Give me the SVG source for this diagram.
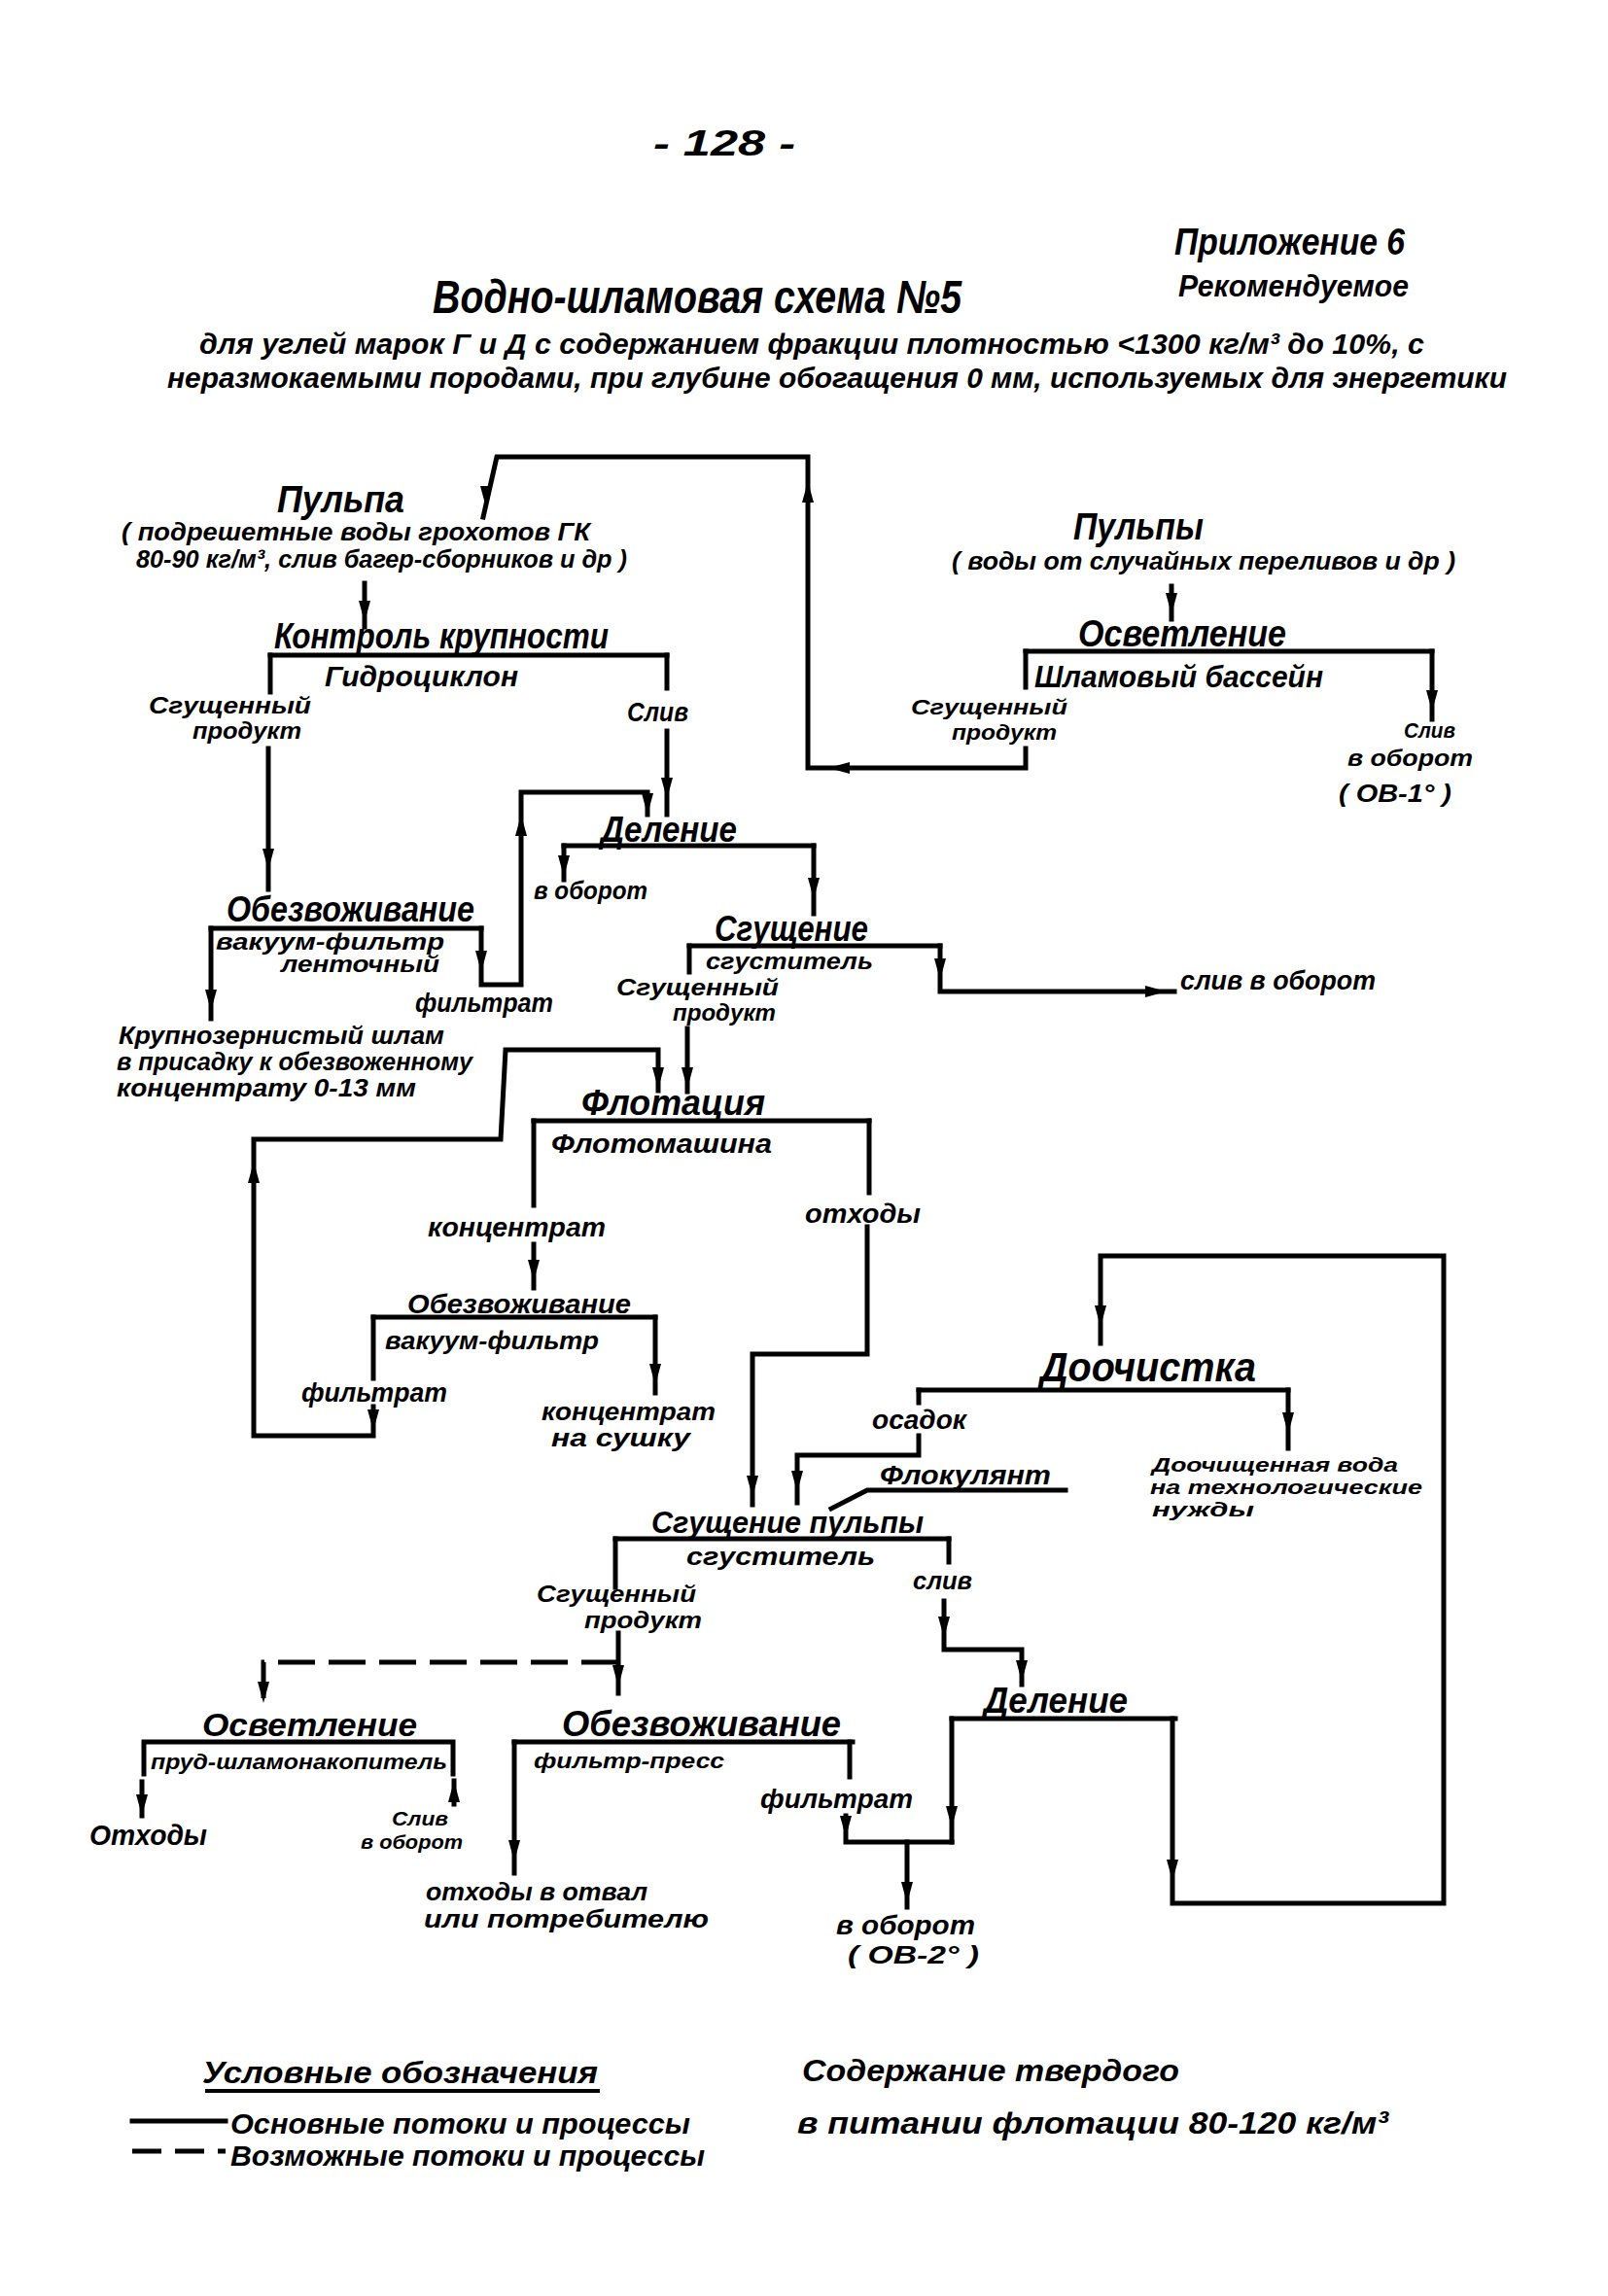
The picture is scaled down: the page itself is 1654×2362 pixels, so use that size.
<svg xmlns="http://www.w3.org/2000/svg" width="1654" height="2362" viewBox="0 0 1654 2362">
<style>
.t{font-family:"Liberation Sans","DejaVu Sans",sans-serif;font-style:italic;font-weight:bold;fill:#000}
.l{fill:none;stroke:#000;stroke-width:5;stroke-linejoin:miter;stroke-linecap:square}
.d{fill:none;stroke:#000;stroke-width:5;stroke-dasharray:38 14}
</style>
<defs>
<path id="ad" d="M0,0 L-6,-22 L6,-22 Z"/>
<path id="au" d="M0,0 L-6,22 L6,22 Z"/>
<path id="al" d="M0,0 L22,-6 L22,6 Z"/>
<path id="ar" d="M0,0 L-22,-6 L-22,6 Z"/>
</defs>
<rect width="1654" height="2362" fill="#fff"/>

<g id="header">
<text class="t" x="672" y="160" font-size="36" textLength="146" lengthAdjust="spacingAndGlyphs">- 128 -</text>
<text class="t" x="1208" y="262" font-size="38" textLength="237" lengthAdjust="spacingAndGlyphs">Приложение 6</text>
<text class="t" x="1212" y="305" font-size="32" textLength="237" lengthAdjust="spacingAndGlyphs">Рекомендуемое</text>
<text class="t" x="445" y="322" font-size="48" textLength="544" lengthAdjust="spacingAndGlyphs">Водно-шламовая схема №5</text>
<text class="t" x="205" y="364" font-size="30" textLength="1260" lengthAdjust="spacingAndGlyphs">для углей марок Г и Д с содержанием фракции плотностью &lt;1300 кг/м³  до 10%, с</text>
<text class="t" x="172" y="399" font-size="30" textLength="1378" lengthAdjust="spacingAndGlyphs">неразмокаемыми породами, при глубине обогащения 0 мм, используемых для энергетики</text>
</g>

<g id="n_pulpa1">
<text class="t" x="285" y="527" font-size="38" textLength="131" lengthAdjust="spacingAndGlyphs">Пульпа</text>
<text class="t" x="125" y="556" font-size="26" textLength="482" lengthAdjust="spacingAndGlyphs">( подрешетные воды грохотов ГК</text>
<text class="t" x="140" y="584" font-size="26" textLength="505" lengthAdjust="spacingAndGlyphs">80-90 кг/м³, слив багер-сборников и др )</text>
</g>

<g id="n_kontrol">
<text class="t" x="282" y="667" font-size="36" textLength="344" lengthAdjust="spacingAndGlyphs">Контроль крупности</text>
<path class="l" d="M278,674 H686"/>
<text class="t" x="334" y="706" font-size="30" textLength="199" lengthAdjust="spacingAndGlyphs">Гидроциклон</text>
<text class="t" x="153" y="734" font-size="24" textLength="167" lengthAdjust="spacingAndGlyphs">Сгущенный</text>
<text class="t" x="198" y="760" font-size="24" textLength="112" lengthAdjust="spacingAndGlyphs">продукт</text>
<text class="t" x="645" y="742" font-size="28" textLength="63" lengthAdjust="spacingAndGlyphs">Слив</text>
</g>

<g id="n_pulpy2">
<text class="t" x="1104" y="555" font-size="38" textLength="134" lengthAdjust="spacingAndGlyphs">Пульпы</text>
<text class="t" x="979" y="586" font-size="26" textLength="518" lengthAdjust="spacingAndGlyphs">( воды от случайных переливов и др )</text>
</g>

<g id="n_osvet1">
<text class="t" x="1109" y="665" font-size="38" textLength="214" lengthAdjust="spacingAndGlyphs">Осветление</text>
<path class="l" d="M1055,670 H1473"/>
<text class="t" x="1064" y="707" font-size="32" textLength="297" lengthAdjust="spacingAndGlyphs">Шламовый бассейн</text>
<text class="t" x="937" y="735" font-size="22" textLength="161" lengthAdjust="spacingAndGlyphs">Сгущенный</text>
<text class="t" x="979" y="761" font-size="22" textLength="108" lengthAdjust="spacingAndGlyphs">продукт</text>
<text class="t" x="1444" y="759" font-size="22" textLength="53" lengthAdjust="spacingAndGlyphs">Слив</text>
<text class="t" x="1386" y="788" font-size="24" textLength="129" lengthAdjust="spacingAndGlyphs">в оборот</text>
<text class="t" x="1377" y="825" font-size="26" textLength="116" lengthAdjust="spacingAndGlyphs">( ОВ-1° )</text>
</g>

<g id="n_delen1">
<text class="t" x="618" y="866" font-size="36" textLength="140" lengthAdjust="spacingAndGlyphs">Деление</text>
<path class="l" d="M580,870 H837"/>
<text class="t" x="549" y="925" font-size="26" textLength="117" lengthAdjust="spacingAndGlyphs">в оборот</text>
</g>

<g id="n_obezv1">
<text class="t" x="233" y="948" font-size="36" textLength="255" lengthAdjust="spacingAndGlyphs">Обезвоживание</text>
<path class="l" d="M217,955 H495"/>
<text class="t" x="222" y="977" font-size="23" textLength="235" lengthAdjust="spacingAndGlyphs">вакуум-фильтр</text>
<text class="t" x="289" y="1000" font-size="23" textLength="163" lengthAdjust="spacingAndGlyphs">ленточный</text>
<text class="t" x="427" y="1041" font-size="28" textLength="142" lengthAdjust="spacingAndGlyphs">фильтрат</text>
<text class="t" x="122" y="1074" font-size="26" textLength="335" lengthAdjust="spacingAndGlyphs">Крупнозернистый шлам</text>
<text class="t" x="120" y="1101" font-size="26" textLength="366" lengthAdjust="spacingAndGlyphs">в присадку к обезвоженному</text>
<text class="t" x="120" y="1128" font-size="26" textLength="308" lengthAdjust="spacingAndGlyphs">концентрату 0-13 мм</text>
</g>

<g id="n_sgush1">
<text class="t" x="735" y="968" font-size="36" textLength="158" lengthAdjust="spacingAndGlyphs">Сгущение</text>
<path class="l" d="M709,973 H967"/>
<text class="t" x="726" y="997" font-size="24" textLength="172" lengthAdjust="spacingAndGlyphs">сгуститель</text>
<text class="t" x="634" y="1024" font-size="23" textLength="167" lengthAdjust="spacingAndGlyphs">Сгущенный</text>
<text class="t" x="692" y="1050" font-size="23" textLength="106" lengthAdjust="spacingAndGlyphs">продукт</text>
<text class="t" x="1214" y="1018" font-size="28" textLength="201" lengthAdjust="spacingAndGlyphs">слив в оборот</text>
</g>

<g id="n_flot">
<text class="t" x="598" y="1147" font-size="36" textLength="189" lengthAdjust="spacingAndGlyphs">Флотация</text>
<path class="l" d="M549,1153 H894"/>
<text class="t" x="567" y="1186" font-size="28" textLength="227" lengthAdjust="spacingAndGlyphs">Флотомашина</text>
<text class="t" x="440" y="1272" font-size="28" textLength="183" lengthAdjust="spacingAndGlyphs">концентрат</text>
<text class="t" x="828" y="1258" font-size="28" textLength="119" lengthAdjust="spacingAndGlyphs">отходы</text>
</g>

<g id="n_obezv2">
<text class="t" x="419" y="1351" font-size="28" textLength="230" lengthAdjust="spacingAndGlyphs">Обезвоживание</text>
<path class="l" d="M384,1355 H674"/>
<text class="t" x="396" y="1388" font-size="26" textLength="220" lengthAdjust="spacingAndGlyphs">вакуум-фильтр</text>
<text class="t" x="310" y="1442" font-size="28" textLength="150" lengthAdjust="spacingAndGlyphs">фильтрат</text>
<text class="t" x="557" y="1461" font-size="26" textLength="179" lengthAdjust="spacingAndGlyphs">концентрат</text>
<text class="t" x="567" y="1488" font-size="26" textLength="143" lengthAdjust="spacingAndGlyphs">на сушку</text>
</g>

<g id="n_doochist">
<text class="t" x="1070" y="1421" font-size="42" textLength="222" lengthAdjust="spacingAndGlyphs">Доочистка</text>
<path class="l" d="M945,1430 H1325"/>
<text class="t" x="897" y="1470" font-size="28" textLength="97" lengthAdjust="spacingAndGlyphs">осадок</text>
<text class="t" x="1185" y="1514" font-size="21" textLength="253" lengthAdjust="spacingAndGlyphs">Доочищенная вода</text>
<text class="t" x="1183" y="1537" font-size="21" textLength="280" lengthAdjust="spacingAndGlyphs">на технологические</text>
<text class="t" x="1185" y="1560" font-size="21" textLength="105" lengthAdjust="spacingAndGlyphs">нужды</text>
</g>

<g id="n_flokul">
<text class="t" x="905" y="1527" font-size="28" textLength="176" lengthAdjust="spacingAndGlyphs">Флокулянт</text>
</g>

<g id="n_sgush2">
<text class="t" x="670" y="1577" font-size="32" textLength="280" lengthAdjust="spacingAndGlyphs">Сгущение пульпы</text>
<path class="l" d="M633,1583 H976"/>
<text class="t" x="706" y="1610" font-size="26" textLength="194" lengthAdjust="spacingAndGlyphs">сгуститель</text>
<text class="t" x="552" y="1648" font-size="23" textLength="164" lengthAdjust="spacingAndGlyphs">Сгущенный</text>
<text class="t" x="601" y="1675" font-size="23" textLength="121" lengthAdjust="spacingAndGlyphs">продукт</text>
<text class="t" x="939" y="1635" font-size="26" textLength="61" lengthAdjust="spacingAndGlyphs">слив</text>
</g>

<g id="n_osvet2">
<text class="t" x="208" y="1786" font-size="34" textLength="221" lengthAdjust="spacingAndGlyphs">Осветление</text>
<path class="l" d="M148,1825 V1792 H466 V1825"/>
<text class="t" x="155" y="1820" font-size="22" textLength="305" lengthAdjust="spacingAndGlyphs">пруд-шламонакопитель</text>
<text class="t" x="92" y="1898" font-size="30" textLength="121" lengthAdjust="spacingAndGlyphs">Отходы</text>
<text class="t" x="403" y="1878" font-size="20" textLength="58" lengthAdjust="spacingAndGlyphs">Слив</text>
<text class="t" x="371" y="1902" font-size="20" textLength="105" lengthAdjust="spacingAndGlyphs">в оборот</text>
</g>

<g id="n_obezv3">
<text class="t" x="578" y="1786" font-size="36" textLength="287" lengthAdjust="spacingAndGlyphs">Обезвоживание</text>
<path class="l" d="M529,1792 H877"/>
<text class="t" x="549" y="1819" font-size="22" textLength="196" lengthAdjust="spacingAndGlyphs">фильтр-пресс</text>
<text class="t" x="782" y="1860" font-size="28" textLength="157" lengthAdjust="spacingAndGlyphs">фильтрат</text>
<text class="t" x="438" y="1955" font-size="26" textLength="228" lengthAdjust="spacingAndGlyphs">отходы в отвал</text>
<text class="t" x="436" y="1983" font-size="26" textLength="293" lengthAdjust="spacingAndGlyphs">или потребителю</text>
<text class="t" x="860" y="1990" font-size="28" textLength="143" lengthAdjust="spacingAndGlyphs">в оборот</text>
<text class="t" x="872" y="2020" font-size="26" textLength="135" lengthAdjust="spacingAndGlyphs">( ОВ-2° )</text>
</g>

<g id="n_delen2">
<text class="t" x="1012" y="1762" font-size="36" textLength="148" lengthAdjust="spacingAndGlyphs">Деление</text>
<path class="l" d="M979,1768 H1209"/>
</g>

<g id="connectors">
<path class="l" d="M1055,670 V707"/>
<path class="l" d="M1055,770 V790 H831 V470 H511 L497,532"/>
<use href="#al" x="852" y="790"/>
<use href="#au" x="831" y="495"/>
<use href="#ad" x="500" y="522"/>
<path class="l" d="M375,600 V645"/>
<use href="#ad" x="375" y="640"/>
<path class="l" d="M278,674 V712"/>
<path class="l" d="M686,674 V708"/>
<path class="l" d="M276,770 V915"/>
<use href="#ad" x="276" y="895"/>
<path class="l" d="M686,752 V838"/>
<use href="#ad" x="686" y="822"/>
<path class="l" d="M1205,603 V637"/>
<use href="#ad" x="1205" y="632"/>
<path class="l" d="M1473,670 V740"/>
<use href="#ad" x="1473" y="732"/>
<path class="l" d="M580,870 V905"/>
<use href="#ad" x="580" y="902"/>
<path class="l" d="M837,870 V940"/>
<use href="#ad" x="837" y="925"/>
<path class="l" d="M495,955 V1013 H536 V815 H666 V838"/>
<use href="#ad" x="495" y="1000"/>
<use href="#au" x="536" y="838"/>
<use href="#ad" x="666" y="838"/>
<path class="l" d="M217,955 V1048"/>
<use href="#ad" x="217" y="1040"/>
<path class="l" d="M709,973 V1000"/>
<path class="l" d="M967,973 V1020 H1208"/>
<use href="#ad" x="967" y="1008"/>
<use href="#ar" x="1200" y="1020"/>
<path class="l" d="M707,1058 V1123"/>
<use href="#ad" x="707" y="1120"/>
<path class="l" d="M384,1355 V1418"/>
<path class="l" d="M384,1447 V1477 H261 V1172 H515 L520,1080 H677 V1122"/>
<use href="#au" x="261" y="1195"/>
<use href="#ad" x="677" y="1120"/>
<use href="#ad" x="384" y="1472"/>
<path class="l" d="M549,1153 V1240"/>
<path class="l" d="M549,1280 V1325"/>
<use href="#ad" x="549" y="1318"/>
<path class="l" d="M894,1153 V1227"/>
<path class="l" d="M892,1262 V1393 H774 V1548"/>
<use href="#ad" x="774" y="1540"/>
<path class="l" d="M674,1355 V1433"/>
<use href="#ad" x="674" y="1425"/>
<path class="l" d="M1206,1768 V1958 H1485 V1292 H1132 V1382"/>
<use href="#ad" x="1206" y="1935"/>
<use href="#ad" x="1132" y="1365"/>
<path class="l" d="M945,1430 V1443"/>
<path class="l" d="M1325,1430 V1490"/>
<use href="#ad" x="1325" y="1475"/>
<path class="l" d="M945,1477 V1497 H820 V1546"/>
<use href="#ad" x="820" y="1535"/>
<path class="l" d="M1096,1533 H892 L855,1552"/>
<path class="l" d="M633,1583 V1633"/>
<path class="l" d="M976,1583 V1607"/>
<path class="l" d="M971,1647 V1697 H1051 V1733"/>
<use href="#ad" x="971" y="1685"/>
<use href="#ad" x="1051" y="1730"/>
<path class="l" d="M636,1680 V1742"/>
<use href="#ad" x="636" y="1735"/>
<path class="d" d="M636,1710 H271 V1752"/>
<use href="#ad" x="271" y="1752"/>
<path class="l" d="M146,1833 V1868"/>
<use href="#ad" x="146" y="1868"/>
<path class="l" d="M467,1832 V1856"/>
<use href="#au" x="467" y="1832"/>
<path class="l" d="M529,1792 V1927"/>
<use href="#ad" x="529" y="1915"/>
<path class="l" d="M874,1792 V1828"/>
<path class="l" d="M870,1868 V1895 H979"/>
<use href="#ad" x="870" y="1890"/>
<path class="l" d="M979,1768 V1895"/>
<use href="#ad" x="979" y="1880"/>
<path class="l" d="M933,1895 V1962"/>
<use href="#ad" x="933" y="1958"/>
</g>

<g id="legend">
<text class="t" x="208" y="2143" font-size="32" textLength="407" lengthAdjust="spacingAndGlyphs">Условные обозначения</text>
<path class="l" d="M213,2151 H615" style="stroke-width:4"/>
<path class="l" d="M136,2182 H232"/>
<text class="t" x="237" y="2195" font-size="30" textLength="473" lengthAdjust="spacingAndGlyphs">Основные потоки и процессы</text>
<path class="l" d="M136,2213 H232" style="stroke-dasharray:30 14;stroke-linecap:butt"/>
<text class="t" x="237" y="2228" font-size="30" textLength="488" lengthAdjust="spacingAndGlyphs">Возможные потоки и процессы</text>
<text class="t" x="825" y="2141" font-size="32" textLength="388" lengthAdjust="spacingAndGlyphs">Содержание твердого</text>
<text class="t" x="820" y="2195" font-size="32" textLength="608" lengthAdjust="spacingAndGlyphs">в питании флотации 80-120 кг/м³</text>
</g>
</svg>
